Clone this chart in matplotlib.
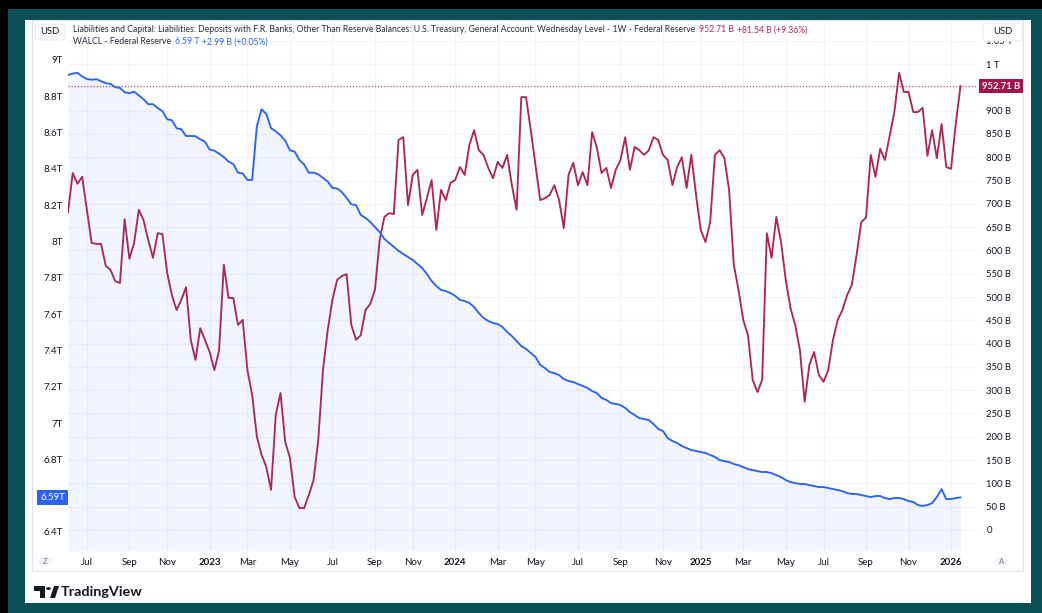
import matplotlib
matplotlib.use("Agg")
import matplotlib.pyplot as plt
from matplotlib.patches import Rectangle, FancyBboxPatch, Circle, Polygon
import matplotlib.transforms as mtransforms
import numpy as np
import pandas as pd

plt.rcParams['font.family'] = ['Lato', 'DejaVu Sans']

W, H = 1042, 613

# ---------------- data (weekly, Wednesday level) ----------------
start_date = "2022-06-08"

walcl_t = [
    8.917, 8.925, 8.929, 8.909, 8.895, 8.891, 8.894, 8.883, 8.872, 8.868,
    8.850, 8.846, 8.822, 8.817, 8.825, 8.805, 8.783, 8.756, 8.756, 8.735,
    8.718, 8.673, 8.668, 8.624, 8.618, 8.581, 8.581, 8.580, 8.563, 8.550,
    8.506, 8.500, 8.484, 8.465, 8.440, 8.427, 8.379, 8.375, 8.339, 8.339,
    8.636, 8.728, 8.702, 8.624, 8.607, 8.585, 8.555, 8.502, 8.495, 8.449,
    8.424, 8.379, 8.379, 8.370, 8.350, 8.330, 8.295, 8.292, 8.272, 8.240,
    8.205, 8.200, 8.146, 8.130, 8.108, 8.080, 8.052, 8.014, 7.992, 7.970,
    7.948, 7.931, 7.915, 7.898, 7.876, 7.854, 7.821, 7.782, 7.755, 7.733,
    7.727, 7.716, 7.700, 7.678, 7.672, 7.661, 7.639, 7.606, 7.579, 7.562,
    7.551, 7.545, 7.529, 7.501, 7.479, 7.452, 7.424, 7.408, 7.386, 7.364,
    7.320, 7.303, 7.281, 7.275, 7.264, 7.242, 7.231, 7.226, 7.215, 7.204,
    7.193, 7.176, 7.165, 7.138, 7.127, 7.110, 7.105, 7.099, 7.083, 7.060,
    7.044, 7.027, 7.022, 7.016, 6.994, 6.967, 6.956, 6.917, 6.901, 6.890,
    6.873, 6.862, 6.851, 6.846, 6.840, 6.835, 6.824, 6.813, 6.796, 6.790,
    6.785, 6.774, 6.768, 6.757, 6.746, 6.741, 6.735, 6.730, 6.730, 6.724,
    6.713, 6.702, 6.686, 6.675, 6.669, 6.664, 6.664, 6.658, 6.653, 6.647,
    6.647, 6.642, 6.636, 6.631, 6.625, 6.614, 6.609, 6.609, 6.603, 6.598,
    6.592, 6.598, 6.598, 6.587, 6.581, 6.587, 6.587, 6.581, 6.570, 6.565,
    6.548, 6.543, 6.548, 6.559, 6.592, 6.636, 6.581, 6.581, 6.587, 6.590,
]

tga_b = [
    682, 766, 743, 758, 687, 616, 614, 614, 567, 558,
    534, 530, 667, 582, 616, 687, 665, 622, 584, 637,
    635, 552, 504, 472, 494, 521, 408, 365, 433, 408,
    382, 343, 386, 569, 498, 498, 440, 451, 343, 290,
    200, 161, 135, 86, 247, 294, 189, 155, 71, 47,
    47, 75, 107, 193, 343, 429, 494, 537, 545, 549,
    440, 408, 418, 472, 485, 515, 622, 672, 680, 678,
    837, 843, 697, 762, 773, 676, 712, 751, 644, 730,
    708, 745, 751, 779, 762, 826, 858, 815, 805, 777,
    755, 790, 777, 805, 740, 687, 929, 929, 858, 783,
    708, 712, 719, 740, 708, 648, 762, 788, 740, 768,
    740, 854, 820, 766, 777, 734, 773, 794, 843, 773,
    822, 815, 805, 815, 843, 837, 805, 794, 740, 779,
    800, 734, 805, 719, 644, 618, 661, 805, 815, 798,
    730, 569, 515, 451, 418, 322, 296, 322, 637, 584,
    672, 618, 537, 476, 440, 386, 275, 354, 382, 333,
    318, 343, 408, 451, 472, 504, 526, 590, 661, 670,
    805, 758, 818, 794, 846, 897, 981, 940, 940, 897,
    897, 906, 803, 858, 798, 871, 779, 775, 871, 952.71,
]

left_ticks = [6.4, 6.8, 7.0, 7.2, 7.4, 7.6, 7.8, 8.0, 8.2, 8.4, 8.6, 8.8, 9.0]
right_ticks = [0, 50, 100, 150, 200, 250, 300, 350, 400, 450, 500, 550, 600,
               650, 700, 750, 800, 850, 900, 1000, 1050]
grid_levels = list(range(0, 1100, 50))
tick_months = [1, 3, 5, 7, 9, 11]
month_names = {1: "Jan", 3: "Mar", 5: "May", 7: "Jul", 9: "Sep", 11: "Nov"}

title_tga = ("Liabilities and Capital: Liabilities: Deposits with F.R. Banks, Other Than "
             "Reserve Balances: U.S. Treasury, General Account: Wednesday Level - 1W - Federal Reserve")
value_tga = "952.71 B"
change_tga = "+81.54 B (+9.36%)"
title_walcl = "WALCL - Federal Reserve"
value_walcl = "6.59 T"
change_walcl = "+2.99 B (+0.05%)"

# ---------------- styling ----------------
BLUE = "#2962ff"
RED = "#b22655"
RED_BOX = "#a3154b"
TEAL = "#0b4f57"
GRID = "#f0f3fa"
TXT = "#131722"

dates = pd.date_range(start_date, periods=len(tga_b), freq="7D")

fig = plt.figure(figsize=(W / 100, H / 100), dpi=100, facecolor="black")


def fx(px):
    return px / W


def fy(py):
    return 1 - py / H


def prect(x0, y0, x1, y1, **kw):
    r = Rectangle((fx(x0), fy(y1)), fx(x1) - fx(x0), fy(y0) - fy(y1),
                  transform=fig.transFigure, **kw)
    fig.add_artist(r)
    return r


# background frames
prect(8, 9, W, H, facecolor=TEAL, edgecolor="none", zorder=-30)
prect(25, 20, 1031, 603, facecolor="white", edgecolor="none", zorder=-29)
prect(32, 20, 1023, 571, facecolor="white", edgecolor="#e0e3eb", lw=0.8, zorder=-28)

# axes
ax_l, ax_r, ax_t, ax_b = 68, 978, 20, 551
ax = fig.add_axes([fx(ax_l), fy(ax_b), fx(ax_r) - fx(ax_l), fy(ax_t) - fy(ax_b)])
ax.set_facecolor("none")
axw = ax.twinx()
axw.set_facecolor("none")
for a in (ax, axw):
    for s in a.spines.values():
        s.set_visible(False)

ax.yaxis.set_ticks_position("right")
axw.yaxis.set_ticks_position("left")
axw.yaxis.set_label_position("left")

ax.set_ylim(-45.1, 1094.5)
axw.set_ylim(6.295, 9.220)
ax.set_xlim(pd.Timestamp(start_date), pd.Timestamp("2026-02-16"))

# x ticks: first weekly point of each odd month
tick_dates = []
tick_labels = []
seen = set()
for d in dates:
    key = (d.year, d.month)
    if d.month in tick_months and key not in seen:
        seen.add(key)
        tick_dates.append(d)
        tick_labels.append(str(d.year) if d.month == 1 else month_names[d.month])

# grid
for v in grid_levels:
    ax.axhline(v, color=GRID, lw=0.9, zorder=0)
for d in tick_dates:
    ax.axvline(d, color=GRID, lw=0.9, zorder=0)

# TGA line (under)
ax.plot(dates, tga_b, color=RED, lw=1.35, zorder=3, solid_joinstyle="round")
ax.axhline(tga_b[-1], color=RED, lw=0.9, ls=(0, (1, 1.5)), zorder=2, alpha=0.8)

# WALCL line + fill (over)
axw.fill_between(dates, walcl_t, 6.295, color=BLUE, alpha=0.06, lw=0, zorder=2)
axw.plot(dates, walcl_t, color=BLUE, lw=1.35, zorder=4, solid_joinstyle="round")

# ticks
ax.set_xticks(tick_dates)
ax.set_xticklabels(tick_labels)
for lab, txt in zip(ax.get_xticklabels(), tick_labels):
    if txt.isdigit():
        lab.set_fontweight("bold")
ax.tick_params(axis="x", length=0, pad=5, labelsize=7, labelcolor=TXT)


def fmt_right(v):
    if v == 0:
        return "0"
    if v >= 1000:
        return f"{v / 1000:g} T"
    return f"{v:g} B"


ax.set_yticks(right_ticks)
ax.set_yticklabels([fmt_right(v) for v in right_ticks])
ax.tick_params(axis="y", length=0, pad=6, labelsize=6.8, labelcolor=TXT)

axw.set_yticks(left_ticks)
axw.set_yticklabels([f"{v:g}T" for v in left_ticks])
axw.tick_params(axis="y", length=0, pad=4, labelsize=7, labelcolor=TXT)

# last-value labels
tr_r = mtransforms.blended_transform_factory(ax.transAxes, ax.transData)
ax.text(1 + 4 / (ax_r - ax_l), tga_b[-1], value_tga, transform=tr_r, ha="left", va="center",
        fontsize=6.8, color="white", fontweight="bold", zorder=10, clip_on=False,
        bbox=dict(boxstyle="square,pad=0.3", fc=RED_BOX, ec="none"))
tr_l = mtransforms.blended_transform_factory(axw.transAxes, axw.transData)
axw.text(-3 / (ax_r - ax_l), walcl_t[-1], f"{walcl_t[-1]:.2f}T", transform=tr_l, ha="right",
         va="center", fontsize=7, color="white", zorder=10, clip_on=False,
         bbox=dict(boxstyle="square,pad=0.3", fc=BLUE, ec="none"))

# USD boxes
for (x0, y0, x1, y1) in [(35, 24, 65, 40), (983, 23, 1022, 41)]:
    b = FancyBboxPatch((fx(x0), fy(y1)), fx(x1) - fx(x0), fy(y0) - fy(y1),
                       boxstyle="round,pad=0,rounding_size=0.004", transform=fig.transFigure,
                       fc="white", ec="#e6e8ee", lw=0.7, zorder=20)
    fig.add_artist(b)
    fig.text(fx((x0 + x1) / 2), fy((y0 + y1) / 2), "USD", ha="center", va="center",
             fontsize=6.8, color=TXT, zorder=21)

# Z and A buttons
for (cx, cy, s) in [(45, 561, "Z"), (1002, 562, "A")]:
    c = Circle((fx(cx), fy(cy)), 7 / W, transform=fig.transFigure, fc="#f0f3fa", ec="none",
               zorder=20)
    fig.add_artist(c)
    fig.text(fx(cx), fy(cy), s, ha="center", va="center", fontsize=5.5, color="#787b86",
             zorder=21)

# legend texts
renderer = fig.canvas.get_renderer()


def place(x, y, s, color, fs, weight="normal"):
    t = fig.text(fx(x), fy(y), s, ha="left", va="center", fontsize=fs, color=color,
                 fontweight=weight, zorder=22)
    bb = t.get_window_extent(renderer)
    return t, bb.x1


t1, _ = place(73, 30, title_tga, "#2a2e39", 6.5)
bb = t1.get_window_extent(renderer)
fs_leg = 6.5 * (689 - 73) / bb.width
t1.set_fontsize(fs_leg)
x_end = t1.get_window_extent(renderer).x1
_, x_end = place(x_end + 4, 30, value_tga, RED, fs_leg)
_, x_end = place(x_end + 3, 30, change_tga, RED, fs_leg)

t2, x_end = place(73, 42, title_walcl, "#2a2e39", fs_leg)
_, x_end = place(x_end + 4, 42, value_walcl, BLUE, fs_leg)
_, x_end = place(x_end + 3, 42, change_walcl, BLUE, fs_leg)

# TradingView logo
logo_col = "#131722"
fig.add_artist(Polygon([(fx(34), fy(586)), (fx(45), fy(586)), (fx(45), fy(598)),
                        (fx(40), fy(598)), (fx(40), fy(591)), (fx(34), fy(591))],
                       closed=True, transform=fig.transFigure, fc=logo_col, ec="none", zorder=20))
fig.add_artist(Circle((fx(48.5), fy(588.5)), 2.4 / W, transform=fig.transFigure,
                      fc=logo_col, ec="none", zorder=20))
fig.add_artist(Polygon([(fx(50), fy(598)), (fx(55), fy(598)), (fx(59), fy(586)),
                        (fx(54), fy(586))], closed=True, transform=fig.transFigure,
                       fc=logo_col, ec="none", zorder=20))
tl = fig.text(fx(61), fy(592), "TradingView", ha="left", va="center", fontsize=10.5,
              color=logo_col, fontweight="bold", zorder=20)
bbl = tl.get_window_extent(renderer)
tl.set_fontsize(10.5 * (143 - 61) / bbl.width)

fig.savefig("out.png", dpi=100, facecolor=fig.get_facecolor())
